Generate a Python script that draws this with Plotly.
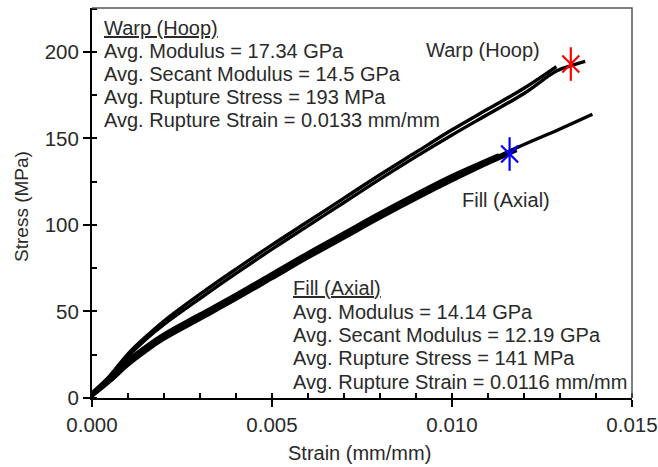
import plotly.graph_objects as go

# ---------------- data ----------------
warp1_strain = [0, 0.0005, 0.001, 0.0015, 0.002, 0.003, 0.004, 0.005, 0.006, 0.007,
                0.008, 0.009, 0.010, 0.011, 0.012, 0.0129]
warp1_stress = [2, 13, 25.5, 35.5, 44.5, 60, 74.5, 88.5, 102, 115.5, 129, 142, 155, 167, 179, 191.5]

warp2_strain = [0, 0.0005, 0.001, 0.0015, 0.002, 0.003, 0.004, 0.005, 0.006, 0.007,
                0.008, 0.009, 0.010, 0.011, 0.012, 0.0129, 0.0133, 0.0137]
warp2_stress = [1.5, 12, 24, 34, 42.5, 57.5, 72, 86, 99.5, 113, 126.5, 139.5, 152, 164,
                176, 189, 192, 194.5]

fill1_strain = [0, 0.0005, 0.001, 0.0015, 0.002, 0.003, 0.004, 0.005, 0.006, 0.007,
                0.008, 0.009, 0.010, 0.011, 0.012, 0.013, 0.0139]
fill1_stress = [2, 11, 20.5, 28.5, 35.5, 47, 58.5, 70.5, 82.5, 94, 105.5, 116.5, 127, 137,
                146.5, 155.5, 164]

fill2_strain = [0, 0.0005, 0.001, 0.0015, 0.002, 0.003, 0.004, 0.005, 0.006, 0.007,
                0.008, 0.009, 0.010, 0.011, 0.0118]
fill2_stress = [1, 9.5, 19, 27, 34, 45.5, 57, 69, 81, 92.5, 104, 115, 125.5, 135.5, 143]

fill3_strain = [0, 0.0005, 0.001, 0.0015, 0.002, 0.003, 0.004, 0.005, 0.006, 0.007,
                0.008, 0.009, 0.010, 0.0113]
fill3_stress = [3, 12.5, 22, 30, 37, 48.5, 60, 72, 84, 95.5, 107, 118, 128.5, 140.5]

warp_rupture = (0.0133, 193)
fill_rupture = (0.0116, 141)

x_ticks = [0.0, 0.005, 0.010, 0.015]
x_ticklabels = ["0.000", "0.005", "0.010", "0.015"]
y_ticks = [0, 50, 100, 150, 200]

warp_text = ["<u>Warp (Hoop)</u>", "Avg. Modulus = 17.34 GPa", "Avg. Secant Modulus = 14.5 GPa",
             "Avg. Rupture Stress = 193 MPa", "Avg. Rupture Strain = 0.0133 mm/mm"]
fill_text = ["<u>Fill (Axial)</u>", "Avg. Modulus = 14.14 GPa", "Avg. Secant Modulus = 12.19 GPa",
             "Avg. Rupture Stress = 141 MPa", "Avg. Rupture Strain = 0.0116 mm/mm"]

# ---------------- figure ----------------
FONT = "Liberation Sans, Arial, sans-serif"
TXT = "#2a2a2a"
fig = go.Figure()

for xs, ys in [(fill2_strain, fill2_stress), (fill3_strain, fill3_stress),
               (fill1_strain, fill1_stress), (warp1_strain, warp1_stress),
               (warp2_strain, warp2_stress)]:
    fig.add_trace(go.Scatter(x=xs, y=ys, mode="lines", line=dict(color="black", width=3.4, shape="spline"),
                             showlegend=False, hoverinfo="skip"))

for (px, py), col in [(warp_rupture, "red"), (fill_rupture, "blue")]:
    for sym, sz in [("x-thin-open", 17), ("line-ns-open", 24)]:
        fig.add_trace(go.Scatter(x=[px], y=[py], mode="markers",
                                 marker=dict(symbol=sym, size=sz, color=col, line=dict(color=col, width=2.2)),
                                 showlegend=False, hoverinfo="skip"))

annotations = []
warp_y = [213.9, 200.6, 187.3, 174.0, 160.7]
fill_y = [63.6, 49.7, 36.4, 23.1, 9.2]
for t, yv in zip(warp_text, warp_y):
    annotations.append(dict(x=0.00028, y=yv, xref="x", yref="y", text=t, showarrow=False,
                            xanchor="left", yanchor="middle", font=dict(family=FONT, size=20, color=TXT)))
for t, yv in zip(fill_text, fill_y):
    annotations.append(dict(x=0.00553, y=yv, xref="x", yref="y", text=t, showarrow=False,
                            xanchor="left", yanchor="middle", font=dict(family=FONT, size=20, color=TXT)))
annotations.append(dict(x=0.01086, y=201, xref="x", yref="y", text="Warp (Hoop)", showarrow=False,
                        xanchor="center", yanchor="middle", font=dict(family=FONT, size=20, color=TXT)))
annotations.append(dict(x=0.0115, y=114.5, xref="x", yref="y", text="Fill (Axial)", showarrow=False,
                        xanchor="center", yanchor="middle", font=dict(family=FONT, size=20, color=TXT)))
annotations.append(dict(x=0.496, y=-0.141, xref="paper", yref="paper", text="Strain (mm/mm)", showarrow=False,
                        xanchor="center", yanchor="middle", font=dict(family=FONT, size=20, color=TXT)))
annotations.append(dict(x=-0.1296, y=0.49, xref="paper", yref="paper", text="Stress (MPa)", showarrow=False,
                        textangle=-90, xanchor="center", yanchor="middle", font=dict(family=FONT, size=19, color=TXT)))

fig.update_layout(
    width=658, height=467,
    margin=dict(l=92, r=26, t=8, b=69, autoexpand=False),
    paper_bgcolor="white", plot_bgcolor="white",
    annotations=annotations,
    shapes=[dict(type="path", xref="paper", yref="paper", path="M 0 1 L 1 1 L 1 0",
                 line=dict(color="#555555", width=1.5))],
    xaxis=dict(range=[0, 0.015], tickvals=x_ticks, ticktext=x_ticklabels, showgrid=False, zeroline=False,
               automargin=False,
               showline=True, linecolor="black", linewidth=2, ticks="outside", ticklen=7, tickwidth=2,
               tickcolor="black", tickfont=dict(family=FONT, size=20.5, color=TXT),
               ticklabeloverflow="allow",
               minor=dict(dtick=0.001, ticks="inside", ticklen=5, tickwidth=2, tickcolor="black", showgrid=False)),
    yaxis=dict(range=[0, 225.4], tickvals=y_ticks, showgrid=False, zeroline=False,
               automargin=False,
               showline=True, linecolor="black", linewidth=2, ticks="outside", ticklen=7, tickwidth=2,
               tickcolor="black", tickfont=dict(family=FONT, size=20.5, color=TXT),
               minor=dict(dtick=25, ticks="inside", ticklen=5, tickwidth=2, tickcolor="black", showgrid=False)),
)

fig.write_html("out.html",
               config={"displayModeBar": False, "responsive": False},
               post_script="document.body.style.margin='0px';"
                           "document.documentElement.style.overflow='hidden';")
